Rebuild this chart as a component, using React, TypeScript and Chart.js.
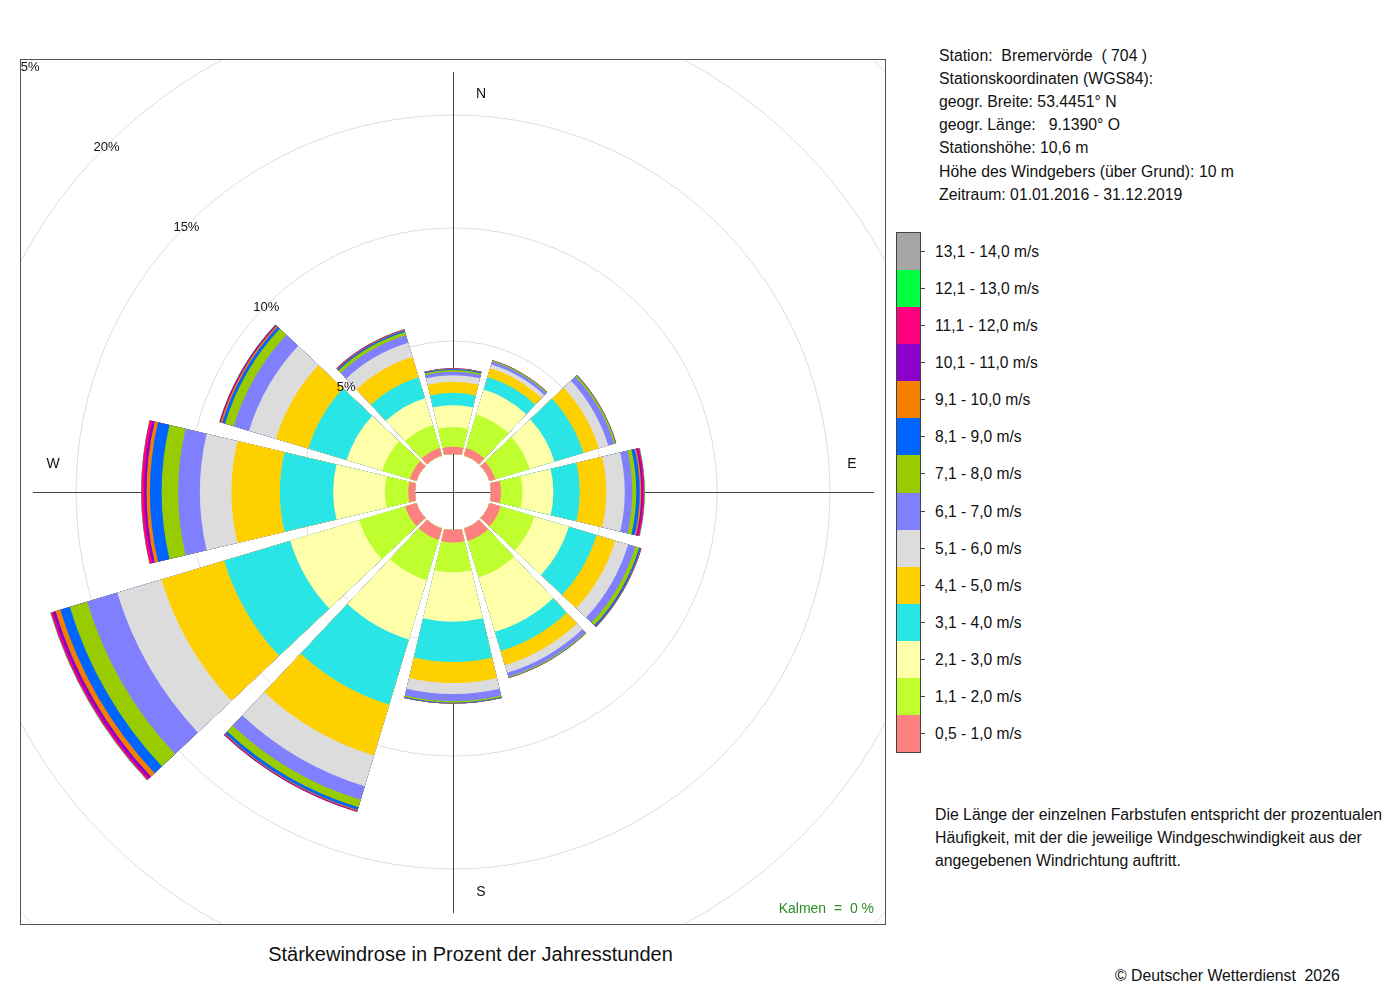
import { useEffect, useRef } from "react";
import { Chart, registerables } from "chart.js";

Chart.register(...registerables);

// directions, clockwise from north in 30° steps
const directions = ["N", "NNO", "ONO", "O", "OSO", "SSO", "S", "SSW", "WSW", "W", "WNW", "NNW"];

// share of the hours (%) per speed class, one value per direction
const c0510 = [0.32, 0.35, 0.27, 0.44, 0.53, 0.58, 0.56, 0.53, 0.53, 0.30, 0.31, 0.35];
const c1120 = [0.88, 1.55, 1.59, 0.95, 1.55, 1.68, 1.32, 1.86, 2.12, 1.03, 1.28, 1.06];
const c2130 = [0.96, 1.15, 1.15, 1.37, 1.59, 2.52, 2.18, 2.74, 3.19, 2.29, 1.64, 1.24];
const c3140 = [0.55, 0.58, 1.33, 1.17, 1.28, 0.88, 1.78, 3.01, 3.05, 2.36, 1.77, 0.97];
const c4150 = [0.49, 0.40, 0.71, 1.17, 0.86, 0.66, 0.93, 2.35, 2.90, 2.14, 1.50, 0.93];
const c5160 = [0.29, 0.18, 0.44, 0.82, 0.60, 0.35, 0.49, 1.42, 2.04, 1.40, 1.24, 0.66];
const c6170 = [0.15, 0.13, 0.27, 0.33, 0.33, 0.18, 0.31, 0.62, 1.39, 0.96, 0.71, 0.35];
const c7180 = [0.08, 0.04, 0.07, 0.18, 0.18, 0.04, 0.07, 0.35, 0.80, 0.73, 0.40, 0.15];
const c8190 = [0.04, 0.01, 0.02, 0.15, 0.07, 0.01, 0.03, 0.13, 0.44, 0.52, 0.13, 0.07];
const c9100 = [0.02, 0.01, 0.01, 0.07, 0.02, 0.01, 0.01, 0.04, 0.22, 0.15, 0.07, 0.03];
const c10110 = [0.01, 0.0, 0.0, 0.07, 0.01, 0.0, 0.0, 0.03, 0.13, 0.11, 0.04, 0.02];
const c11120 = [0.0, 0.0, 0.0, 0.07, 0.01, 0.0, 0.0, 0.02, 0.09, 0.12, 0.02, 0.01];
const c12130 = [0.0, 0.0, 0.0, 0.02, 0.0, 0.0, 0.0, 0.0, 0.02, 0.01, 0.01, 0.0];
const c13140 = [0.0, 0.0, 0.0, 0.0, 0.0, 0.0, 0.0, 0.0, 0.01, 0.0, 0.0, 0.0];

const speedClasses = [c0510, c1120, c2130, c3140, c4150, c5160, c6170, c7180, c8190, c9100, c10110, c11120, c12130, c13140];

const classLabels = [
  "0,5 - 1,0 m/s", "1,1 - 2,0 m/s", "2,1 - 3,0 m/s", "3,1 - 4,0 m/s", "4,1 - 5,0 m/s",
  "5,1 - 6,0 m/s", "6,1 - 7,0 m/s", "7,1 - 8,0 m/s", "8,1 - 9,0 m/s", "9,1 - 10,0 m/s",
  "10,1 - 11,0 m/s", "11,1 - 12,0 m/s", "12,1 - 13,0 m/s", "13,1 - 14,0 m/s",
];

const classColors = [
  "#ff8080", "#bfff30", "#ffffaa", "#2ae5e5", "#ffd000", "#dcdcdc", "#8080ff",
  "#99cc00", "#0064ff", "#f58000", "#8c00cc", "#ff0080", "#00ff40", "#a6a6a6",
];

const ringTicks = [5, 10, 15, 20, 25];

const stationLines = [
  "Station:  Bremervörde  ( 704 )",
  "Stationskoordinaten (WGS84):",
  "geogr. Breite: 53.4451° N",
  "geogr. Länge:   9.1390° O",
  "Stationshöhe: 10,6 m",
  "Höhe des Windgebers (über Grund): 10 m",
  "Zeitraum: 01.01.2016 - 31.12.2019",
];

const noteLines = [
  "Die Länge der einzelnen Farbstufen entspricht der prozentualen",
  "Häufigkeit, mit der die jeweilige Windgeschwindigkeit aus der",
  "angegebenen Windrichtung auftritt.",
];

const FONT = '"Liberation Sans", Arial, Helvetica, sans-serif';
const PX_PER_PCT = 22.6;
const HOLE_PX = 38;
const MIN_PCT = -HOLE_PX / PX_PER_PCT;
const MAX_PCT = 25;
const SECTOR_DEG = 26.6;
const GAP_DEG = 30 - SECTOR_DEG;

function WindRose() {
  const canvasRef = useRef<HTMLCanvasElement | null>(null);

  useEffect(() => {
    if (!canvasRef.current) return;

    const cumulative: number[][] = [];
    let run = directions.map(() => 0);
    speedClasses.forEach((cls) => {
      run = run.map((v, i) => v + cls[i]);
      cumulative.push(run);
    });
    const maxTotal = Math.max(...cumulative[cumulative.length - 1]);

    // every direction is followed by an empty gap slice
    const labels = directions.flatMap((d) => [d, ""]);
    const datasets = cumulative.map((cum, k) => ({
      label: classLabels[k],
      data: cum.flatMap((v) => [v, 0]),
      backgroundColor: cum.flatMap(() => [classColors[k], "rgba(0,0,0,0)"]),
      borderWidth: 0,
      angle: (ctx: any) => (ctx.dataIndex % 2 === 0 ? SECTOR_DEG : GAP_DEG),
    }));

    const holePlugin = {
      id: "hole",
      afterDatasetsUpdate(chart: any) {
        const base = chart.scales.r.getDistanceFromCenterForValue(0);
        chart.data.datasets.forEach((_: any, di: number) => {
          chart.getDatasetMeta(di).data.forEach((arc: any) => {
            arc.innerRadius = base;
          });
        });
      },
    };

    const decorPlugin = {
      id: "decor",
      beforeDatasetsDraw(chart: any) {
        const s = chart.scales.r;
        const ctx = chart.ctx;
        const len = s.getDistanceFromCenterForValue(maxTotal);
        const cx = Math.round(s.xCenter) + 0.5;
        const cy = Math.round(s.yCenter) + 0.5;
        ctx.save();
        ctx.strokeStyle = "#444";
        ctx.lineWidth = 1;
        ctx.beginPath();
        ctx.moveTo(cx - len, cy);
        ctx.lineTo(cx + len, cy);
        ctx.moveTo(cx, cy - len);
        ctx.lineTo(cx, cy + len);
        ctx.stroke();
        ctx.restore();
      },
      afterDatasetsDraw(chart: any) {
        const s = chart.scales.r;
        const ctx = chart.ctx;
        const cx = s.xCenter;
        const cy = s.yCenter;
        ctx.save();
        ctx.fillStyle = "#111";
        ctx.textAlign = "center";
        ctx.textBaseline = "middle";
        ctx.font = `13px ${FONT}`;
        ringTicks.forEach((v) => {
          const r = s.getDistanceFromCenterForValue(v) * Math.SQRT1_2;
          ctx.fillText(`${v}%`, cx - r, cy - r + 2);
        });
        ctx.font = `14px ${FONT}`;
        ctx.fillText("N", cx + 28, cy - 398);
        ctx.fillText("E", cx + 399, cy - 28);
        ctx.fillText("S", cx + 28, cy + 400);
        ctx.fillText("W", cx - 400, cy - 28);
        ctx.fillStyle = "#2a8f2a";
        ctx.textAlign = "right";
        ctx.font = `14px ${FONT}`;
        ctx.fillText("Kalmen  =  0 %", chart.width - 12, chart.height - 16);
        ctx.strokeStyle = "#555";
        ctx.lineWidth = 1;
        ctx.strokeRect(0.5, 0.5, chart.width - 1, chart.height - 1);
        ctx.restore();
      },
    };

    const chart = new Chart(canvasRef.current, {
      type: "polarArea",
      data: { labels, datasets: datasets as any },
      options: {
        responsive: false,
        animation: false,
        events: [],
        layout: { padding: 0 },
        plugins: { legend: { display: false }, tooltip: { enabled: false } },
        scales: {
          r: {
            min: MIN_PCT,
            max: MAX_PCT,
            startAngle: -SECTOR_DEG / 2,
            ticks: { display: false },
            grid: { circular: true, color: "#dddddd", lineWidth: 1 },
            angleLines: { display: false },
            pointLabels: { display: false },
            afterBuildTicks: (scale: any) => {
              scale.ticks = ringTicks.map((value) => ({ value }));
            },
            afterFit: (scale: any) => {
              scale.drawingArea = PX_PER_PCT * (MAX_PCT - MIN_PCT);
            },
          } as any,
        },
      },
      plugins: [holePlugin, decorPlugin],
    });
    return () => chart.destroy();
  }, []);

  return (
    <canvas
      ref={canvasRef}
      width={866}
      height={866}
      style={{ position: "absolute", left: 20, top: 59, width: 866, height: 866 }}
    />
  );
}

export default function App() {
  const boxH = 520 / classLabels.length;
  const legendRows = classLabels.map((label, i) => ({ label, color: classColors[i] })).reverse();
  return (
    <div
      style={{
        position: "absolute",
        left: 0,
        top: 0,
        width: 1400,
        height: 1000,
        background: "#fff",
        fontFamily: FONT,
        color: "#111",
      }}
    >
      <WindRose />

      <div style={{ position: "absolute", left: 939, top: 43.5, fontSize: 15.8, lineHeight: "23.2px", whiteSpace: "pre" }}>
        {stationLines.map((t) => (
          <div key={t}>{t}</div>
        ))}
      </div>

      <div
        style={{
          position: "absolute",
          left: 896,
          top: 232,
          width: 25,
          height: 521,
          boxSizing: "border-box",
          border: "1px solid #444",
          display: "flex",
          flexDirection: "column",
        }}
      >
        {legendRows.map((row) => (
          <div key={row.label} style={{ flex: 1, background: row.color }} />
        ))}
      </div>
      {legendRows.map((row, i) => (
        <div key={row.label}>
          <div
            style={{
              position: "absolute",
              left: 921,
              top: 232 + boxH * (i + 0.5),
              width: 4,
              height: 1,
              background: "#444",
            }}
          />
          <div
            style={{
              position: "absolute",
              left: 935,
              top: 232 + boxH * (i + 0.5) - 9,
              fontSize: 15.6,
              lineHeight: "20px",
              whiteSpace: "pre",
            }}
          >
            {row.label}
          </div>
        </div>
      ))}

      <div style={{ position: "absolute", left: 935, top: 802.5, fontSize: 15.8, lineHeight: "23px", whiteSpace: "pre" }}>
        {noteLines.map((t) => (
          <div key={t}>{t}</div>
        ))}
      </div>

      <div
        style={{
          position: "absolute",
          left: 0,
          width: 941,
          top: 942,
          fontSize: 20,
          lineHeight: "24px",
          textAlign: "center",
        }}
      >
        Stärkewindrose in Prozent der Jahresstunden
      </div>

      <div style={{ position: "absolute", left: 1115, top: 966, fontSize: 15.8, lineHeight: "20px", whiteSpace: "pre" }}>
        © Deutscher Wetterdienst  2026
      </div>
    </div>
  );
}
